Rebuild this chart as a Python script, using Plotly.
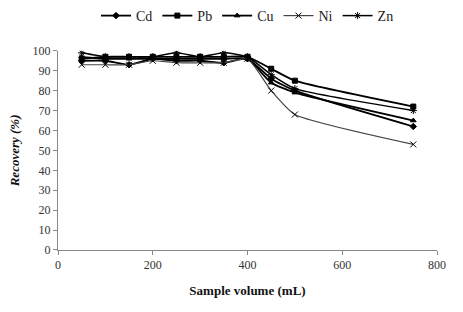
import plotly.graph_objects as go

volume = [50, 100, 150, 200, 250, 300, 350, 400, 450, 500, 750]
cd = [95, 95, 93, 96, 95, 95, 94, 96, 86, 80, 62]
pb = [96, 97, 97, 97, 97, 97, 97, 97, 91, 85, 72]
cu = [97, 96, 96, 96, 96, 96, 96, 96, 84, 79, 65]
ni = [93, 93, 93, 95, 94, 94, 94, 96, 80, 68, 53]
zn = [99, 97, 97, 97, 99, 97, 99, 97, 88, 81, 70]

series = [
    ("Cd", cd, "diamond", 5, 1.8, "black"),
    ("Pb", pb, "square", 5, 1.8, "black"),
    ("Cu", cu, "triangle-up", 5, 1.8, "black"),
    ("Ni", ni, "x-thin", 6, 1.2, "#444444"),
    ("Zn", zn, "asterisk", 6, 1.5, "black"),
]

fig = go.Figure()
for name, vals, sym, size, lw, col in series:
    fig.add_trace(go.Scatter(
        x=volume, y=vals, name=name, mode="lines+markers",
        line=dict(color=col, width=lw, shape="spline", smoothing=0.5),
        marker=dict(symbol=sym, size=size, color="black",
                    line=dict(color="black", width=1)),
    ))

ff = "Liberation Serif"
fig.update_layout(
    width=463, height=312,
    margin=dict(l=58, r=26, t=37, b=62),
    paper_bgcolor="white", plot_bgcolor="white",
    font=dict(family=ff, size=12, color="#222"),
    showlegend=True,
    legend=dict(orientation="h", x=0.5, xanchor="center", y=1.0, yanchor="top",
                yref="container", font=dict(size=14, family=ff, color="#222"),
                itemwidth=30, bgcolor="rgba(0,0,0,0)"),
    xaxis=dict(range=[0, 800], tickvals=[0, 200, 400, 600, 800],
               tickfont=dict(family=ff, size=12, color="#333"),
               showline=True, linecolor="#888", linewidth=1,
               ticks="outside", ticklen=4, tickcolor="#888",
               showgrid=False, zeroline=False,
               title=dict(text="<b>Sample volume (mL)</b>",
                          font=dict(family=ff, size=13, color="#111"), standoff=14)),
    yaxis=dict(range=[0, 100], dtick=10,
               tickfont=dict(family=ff, size=12, color="#333"),
               showline=True, linecolor="#888", linewidth=1,
               ticks="outside", ticklen=4, tickcolor="#888",
               showgrid=False, zeroline=False,
               title=dict(text="<b><i>Recovery (%)</i></b>",
                          font=dict(family=ff, size=13, color="#111"), standoff=10)),
)

fig.write_html("out.html")
